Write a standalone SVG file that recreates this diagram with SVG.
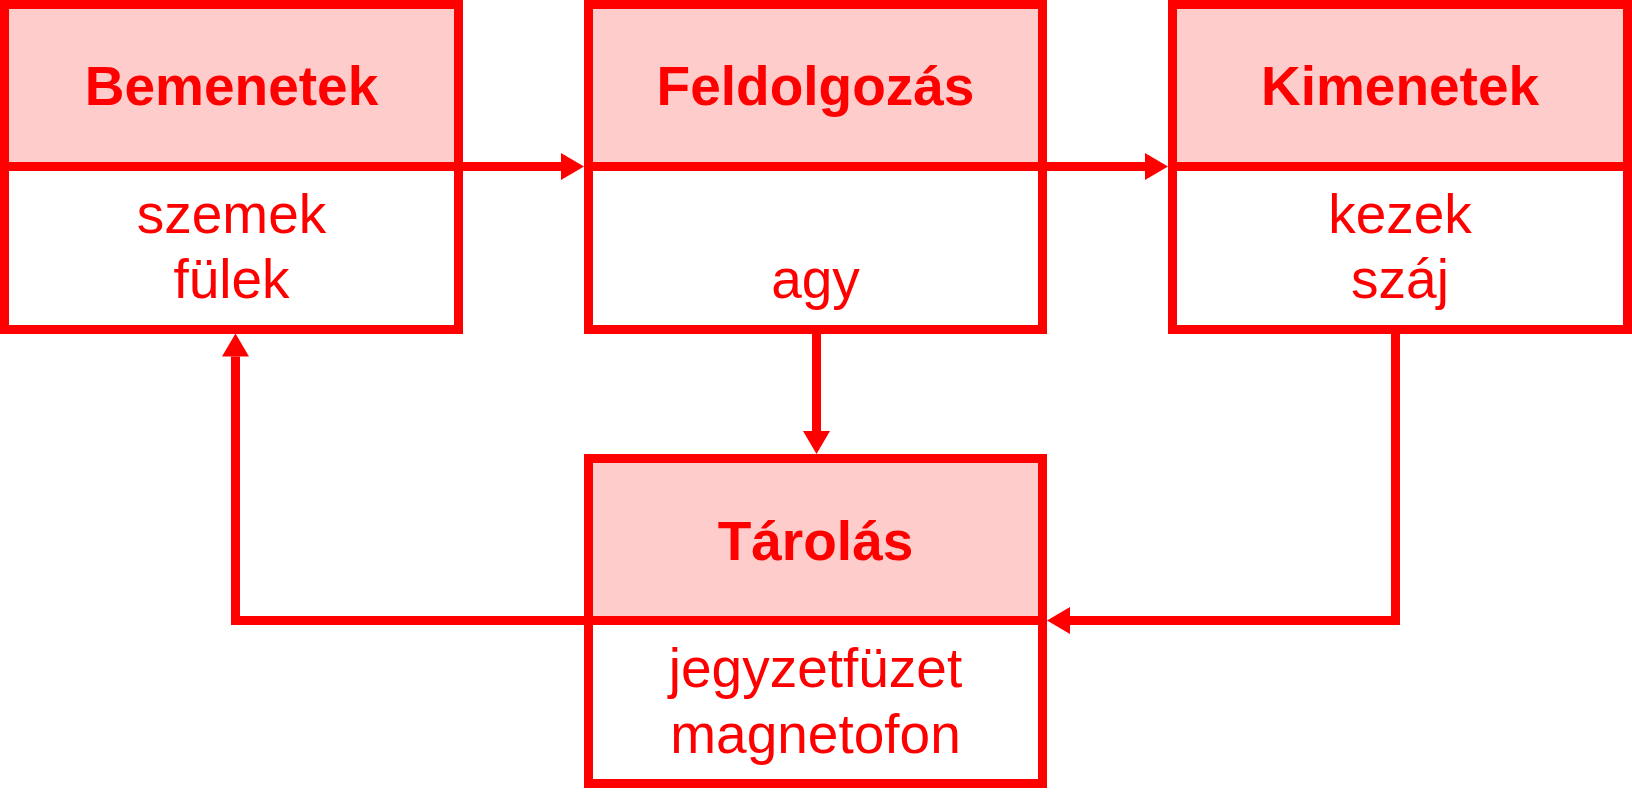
<svg xmlns="http://www.w3.org/2000/svg" width="1632" height="800" viewBox="0 0 1632 800">
<defs>
<style>
.hdr{fill:#FFCCCC;stroke:none}
.bdy{fill:#FFFFFF;stroke:none}
.frame{fill:none;stroke:#FF0000;stroke-width:9}
.div{stroke:#FF0000;stroke-width:9}
.conn{fill:none;stroke:#FF0000;stroke-width:9;stroke-linejoin:miter;stroke-linecap:butt}
.title{font-family:"Liberation Sans",Arial,sans-serif;font-weight:bold;font-size:55px;fill:#FF0000;text-anchor:middle}
.item{font-family:"Liberation Sans",Arial,sans-serif;font-size:55px;fill:#FF0000;text-anchor:middle}
</style>
<marker id="ah" viewBox="0 0 23 27" refX="0" refY="13.5" markerWidth="23" markerHeight="27" markerUnits="userSpaceOnUse" orient="auto">
<path d="M0,0 L23,13.5 L0,27 Z" fill="#FF0000"/>
</marker>
</defs>
<rect width="1632" height="800" fill="#FFFFFF"/>
<g id="connectors">
<line class="conn" x1="458.5" y1="166.5" x2="561" y2="166.5" marker-end="url(#ah)"/>
<line class="conn" x1="1042.5" y1="166.5" x2="1145" y2="166.5" marker-end="url(#ah)"/>
<line class="conn" x1="816.5" y1="329.5" x2="816.5" y2="431" marker-end="url(#ah)"/>
<polyline class="conn" points="1395.5,329.5 1395.5,620.5 1070,620.5" marker-end="url(#ah)"/>
<polyline class="conn" points="588.5,620.5 235.5,620.5 235.5,356.5" marker-end="url(#ah)"/>
</g>
<g id="bemenetek">
<rect class="hdr" x="4.5" y="4.5" width="454" height="162"/>
<rect class="bdy" x="4.5" y="166.5" width="454" height="163"/>
<rect class="frame" x="4.5" y="4.5" width="454" height="325"/>
<line class="div" x1="4.5" y1="166.5" x2="458.5" y2="166.5"/>
<text class="title" x="231.5" y="105">Bemenetek</text>
<text class="item" x="231.5" y="233">szemek</text>
<text class="item" x="231.5" y="298">fülek</text>
</g>
<g id="feldolgozas">
<rect class="hdr" x="588.5" y="4.5" width="454" height="162"/>
<rect class="bdy" x="588.5" y="166.5" width="454" height="163"/>
<rect class="frame" x="588.5" y="4.5" width="454" height="325"/>
<line class="div" x1="588.5" y1="166.5" x2="1042.5" y2="166.5"/>
<text class="title" x="815.5" y="105">Feldolgozás</text>
<text class="item" x="815.5" y="298">agy</text>
</g>
<g id="kimenetek">
<rect class="hdr" x="1172.5" y="4.5" width="455" height="162"/>
<rect class="bdy" x="1172.5" y="166.5" width="455" height="163"/>
<rect class="frame" x="1172.5" y="4.5" width="455" height="325"/>
<line class="div" x1="1172.5" y1="166.5" x2="1627.5" y2="166.5"/>
<text class="title" x="1400" y="105">Kimenetek</text>
<text class="item" x="1400" y="233">kezek</text>
<text class="item" x="1400" y="298">száj</text>
</g>
<g id="tarolas">
<rect class="hdr" x="588.5" y="458.5" width="454" height="162"/>
<rect class="bdy" x="588.5" y="620.5" width="454" height="163"/>
<rect class="frame" x="588.5" y="458.5" width="454" height="325"/>
<line class="div" x1="588.5" y1="620.5" x2="1042.5" y2="620.5"/>
<text class="title" x="815.5" y="560">Tárolás</text>
<text class="item" x="815.5" y="687">jegyzetfüzet</text>
<text class="item" x="815.5" y="753">magnetofon</text>
</g>
</svg>
